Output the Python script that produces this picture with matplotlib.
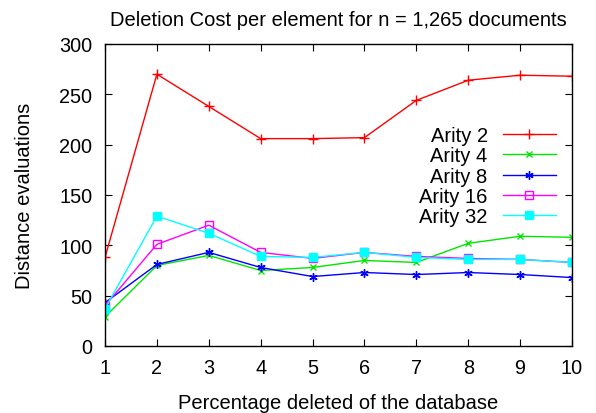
import matplotlib
matplotlib.use("Agg")
import matplotlib.pyplot as plt

plt.rcParams['font.family'] = ['Liberation Sans', 'DejaVu Sans']

pct = [1, 2, 3, 4, 5, 6, 7, 8, 9, 10]
arity2 = [88, 270, 238, 206, 206, 207, 244, 264, 269, 268]
arity4 = [29, 80, 90, 75, 78, 85, 83, 102, 109, 108]
arity8 = [43, 81, 93, 78, 69, 73, 71, 73, 71, 68]
arity16 = [40, 101, 120, 93, 87, 93, 89, 87, 86, 83]
arity32 = [37, 129, 112, 89, 88, 93, 88, 86, 86, 83]

fig = plt.figure(figsize=(5.96, 4.14), dpi=100)
ax = fig.add_axes([105/596, 1-347/414, 467/596, 302/414])

ax.plot(pct, arity2, color='red', lw=1, marker='+', ms=7, mew=1, label='Arity 2')
ax.plot(pct, arity4, color='#00e600', lw=1, marker='x', ms=5, mew=1, label='Arity 4')
ax.plot(pct, arity8, color='blue', lw=1, marker=(6, 2, 0), ms=6, mew=1, label='Arity 8')
ax.plot(pct, arity16, color='magenta', lw=1, marker='s', ms=6, mew=1, mfc='none', label='Arity 16')
ax.plot(pct, arity32, color='cyan', lw=1, marker='s', ms=6, mew=1, label='Arity 32')

ax.set_xlim(1, 10)
ax.set_ylim(0, 300)
ax.set_xticks(pct)
ax.set_yticks(range(0, 301, 50))
ax.tick_params(direction='in', top=True, right=True, labelsize=14.3, length=5, pad=9)
for s in ax.spines.values():
    s.set_linewidth(1)

ax.set_title('Deletion Cost per element for n = 1,265 documents', fontsize=14.5, pad=14)
ax.set_xlabel('Percentage deleted of the database', fontsize=14.5, labelpad=11)
ax.set_ylabel('Distance evaluations', fontsize=14.5, labelpad=18)

leg = ax.legend(loc='upper right', bbox_to_anchor=(0.966, 0.728), frameon=False,
                markerfirst=False, fontsize=14.5, handlelength=2.65,
                labelspacing=0.06, handletextpad=0.75, borderpad=0, borderaxespad=0)

fig.savefig('out.png', dpi=100)
